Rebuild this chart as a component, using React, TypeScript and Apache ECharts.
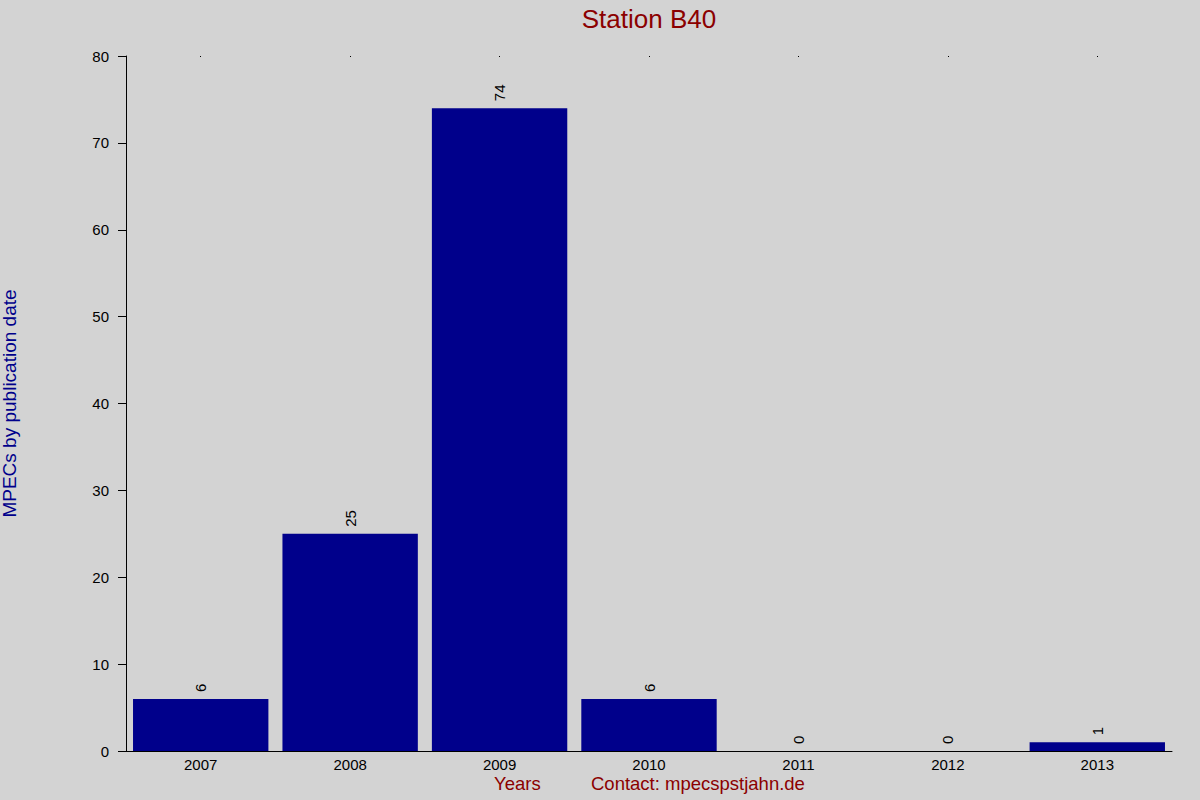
import React, { useEffect, useRef } from "react";
import * as echarts from "echarts";

const years = ["2007", "2008", "2009", "2010", "2011", "2012", "2013"];
const counts = [6, 25, 74, 6, 0, 0, 1];
const yTicks = { min: 0, max: 80, interval: 10 };

export default function App() {
  const ref = useRef<HTMLDivElement>(null);
  useEffect(() => {
    const chart = echarts.init(ref.current!, null, { renderer: "svg" });
    const font = "Liberation Sans, Arial, sans-serif";
    chart.setOption({
      animation: false,
      backgroundColor: "#D3D3D3",
      textStyle: { fontFamily: font },
      title: {
        text: "Station B40",
        left: 644,
        textAlign: "center",
        top: 1,
        textStyle: { color: "#8B0000", fontSize: 26, fontWeight: "normal", fontFamily: font },
      },
      grid: { left: 126, right: 28, top: 56, bottom: 49, containLabel: false, outerBoundsMode: "none" },
      xAxis: [
        {
          type: "category",
          data: years,
          axisLine: { show: true, lineStyle: { color: "#000", width: 1 } },
          axisTick: { show: false },
          axisLabel: { color: "#000", fontSize: 15, margin: 6, fontFamily: font },
          splitLine: { show: false },
        },
        {
          type: "category",
          data: years,
          position: "top",
          axisLine: { show: false },
          axisTick: { show: true, alignWithLabel: true, length: 1, inside: true, lineStyle: { color: "#000" } },
          axisLabel: { show: false },
        },
      ],
      yAxis: {
        type: "value",
        min: yTicks.min,
        max: yTicks.max,
        interval: yTicks.interval,
        name: "MPECs by publication date",
        nameLocation: "middle",
        nameGap: 107,
        nameTextStyle: { color: "#00008B", fontSize: 19, fontFamily: font },
        axisLine: { show: true, lineStyle: { color: "#000", width: 1 } },
        axisTick: { show: true, length: 8, lineStyle: { color: "#000" } },
        axisLabel: { color: "#000", fontSize: 15, margin: 17, fontFamily: font },
        splitLine: { show: false },
      },
      series: [
        {
          type: "bar",
          data: counts,
          barCategoryGap: "9.4%",
          itemStyle: { color: "#00008B" },
          label: {
            show: true,
            position: "top",
            rotate: 90,
            align: "left",
            verticalAlign: "middle",
            distance: 7,
            color: "#000",
            fontSize: 15,
            fontFamily: font,
          },
        },
      ],
      graphic: [
        {
          type: "text",
          left: 494,
          top: 774,
          style: { text: "Years", fill: "#8B0000", fontSize: 18.5, fontFamily: font },
        },
        {
          type: "text",
          left: 591,
          top: 774,
          style: { text: "Contact: mpecspstjahn.de", fill: "#8B0000", fontSize: 18.5, fontFamily: font },
        },
      ],
    });
    return () => chart.dispose();
  }, []);
  return <div ref={ref} style={{ position: "absolute", left: 0, top: 0, width: 1200, height: 800 }} />;
}
